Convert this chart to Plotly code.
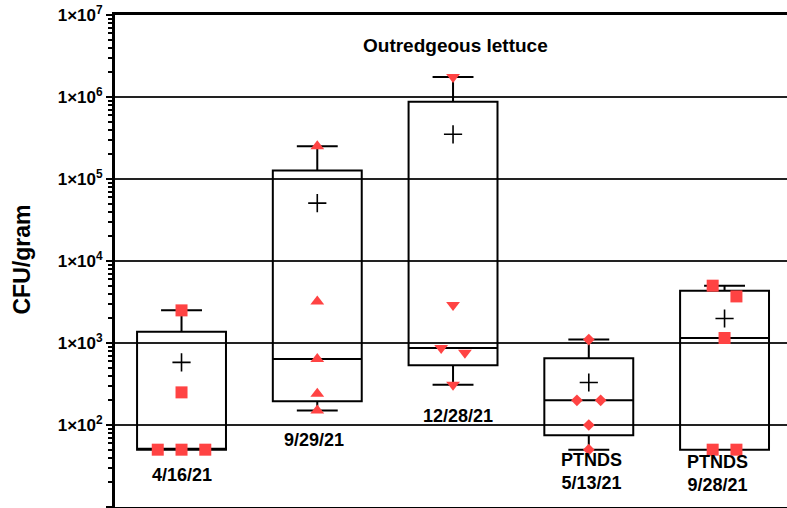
import numpy as np
import plotly.graph_objects as go

# ---- data ----
CATEGORIES = ["4/16/21", "9/29/21", "12/28/21", "PTNDS<br>5/13/21", "PTNDS<br>9/28/21"]
APR16_21 = [2500, 250, 50, 50, 50]
SEP29_21 = [250000, 3200, 640, 240, 150]
DEC28_21 = [1750000, 2900, 870, 760, 310]
PTNDS_MAY13_21 = [1100, 200, 200, 100, 50]
PTNDS_SEP28_21 = [5000, 3700, 1150, 50, 50]
SERIES = [APR16_21, SEP29_21, DEC28_21, PTNDS_MAY13_21, PTNDS_SEP28_21]
TICK_EXPONENTS = [1, 2, 3, 4, 5, 6, 7]
TICK_TEXT = ["<b>1×10<sup>%d</sup></b>" % e for e in TICK_EXPONENTS]
TITLE = "Outredgeous lettuce"
Y_TITLE = "CFU/gram"

# ---- styling ----
SYMBOLS = ["square", "triangle-up", "triangle-down", "diamond", "square"]
SIZES = [12, 12, 12, 9, 12]
RED = "#FF4343"
FONT = "Arial, Liberation Sans, sans-serif"
LABEL_LOGY = [1.39, 1.817, 2.11, 1.434, 1.406]   # label placement (log10 units)
LABEL_DX = [0.0, -0.025, 0.04, 0.02, -0.05]


def swarm(vals, thresh=0.15, step=0.175):
    order = sorted(range(len(vals)), key=lambda i: -vals[i])
    offsets = [0.0] * len(vals)
    clusters = []
    for i in order:
        if clusters and abs(np.log10(vals[clusters[-1][-1]]) - np.log10(vals[i])) < thresh:
            clusters[-1].append(i)
        else:
            clusters.append([i])
    for c in clusters:
        n = len(c)
        for k, i in enumerate(c):
            offsets[i] = (k - (n - 1) / 2) * step
    return offsets


xs = list(range(len(SERIES)))
q1 = [float(np.percentile(v, 25, method="weibull")) for v in SERIES]
med = [float(np.median(v)) for v in SERIES]
q3 = [float(np.percentile(v, 75, method="weibull")) for v in SERIES]
lo = [float(min(v)) for v in SERIES]
hi = [float(max(v)) for v in SERIES]
means = [float(np.mean(v)) for v in SERIES]

fig = go.Figure()
fig.add_trace(go.Box(
    x=xs, q1=q1, median=med, q3=q3, lowerfence=lo, upperfence=hi,
    boxpoints=False, width=0.655, whiskerwidth=0.46,
    line=dict(color="black", width=2), fillcolor="rgba(0,0,0,0)",
    hoverinfo="skip", showlegend=False,
))

for i, vals in enumerate(SERIES):
    offs = swarm(vals)
    fig.add_trace(go.Scatter(
        x=[i + o for o in offs], y=vals, mode="markers",
        marker=dict(symbol=SYMBOLS[i], size=SIZES[i], color=RED, line=dict(width=0)),
        showlegend=False, hoverinfo="skip",
    ))

fig.add_trace(go.Scatter(
    x=xs, y=means, mode="markers",
    marker=dict(symbol="cross-thin", size=13, line=dict(color="black", width=1.6)),
    showlegend=False, hoverinfo="skip",
))

for i, lab in enumerate(CATEGORIES):
    fig.add_annotation(x=i + LABEL_DX[i], y=LABEL_LOGY[i], xref="x", yref="y", text="<b>%s</b>" % lab,
                       showarrow=False, xanchor="center", yanchor="middle",
                       font=dict(family=FONT, size=18, color="black"))

fig.add_annotation(x=0.506, y=0.937, xref="paper", yref="paper", text="<b>%s</b>" % TITLE,
                   showarrow=False, xanchor="center", yanchor="middle",
                   font=dict(family=FONT, size=19, color="black"))
fig.add_annotation(x=-0.1384, y=0.503, xref="paper", yref="paper", text="<b>%s</b>" % Y_TITLE,
                   textangle=-90, showarrow=False, xanchor="center", yanchor="middle",
                   font=dict(family=FONT, size=23, color="black"))

minor_vals = [k * 10 ** d for d in range(1, 7) for k in range(2, 10)]

fig.update_layout(
    width=787, height=508,
    margin=dict(l=115, r=0, t=15, b=1),
    paper_bgcolor="white", plot_bgcolor="white",
    xaxis=dict(range=[-0.49, 4.46], showgrid=False, zeroline=False, showticklabels=False,
               showline=True, linewidth=3, linecolor="black", mirror=True, ticks=""),
    yaxis=dict(type="log", range=[1, 7], tickmode="array",
               tickvals=[10 ** e for e in TICK_EXPONENTS], ticktext=TICK_TEXT,
               ticks="outside", ticklen=6, tickwidth=2, tickcolor="black",
               showline=True, linewidth=3, linecolor="black",
               showgrid=True, gridcolor="#222222", gridwidth=1.6, zeroline=False,
               tickfont=dict(family=FONT, size=17, color="black"),
               minor=dict(tickmode="array", tickvals=minor_vals, ticks="outside",
                          ticklen=4, tickwidth=1.5, tickcolor="black", showgrid=False)),
)

fig.write_html("out.html", config={"displayModeBar": False},
               post_script="document.body.style.margin='0';document.body.style.overflow='hidden';")
